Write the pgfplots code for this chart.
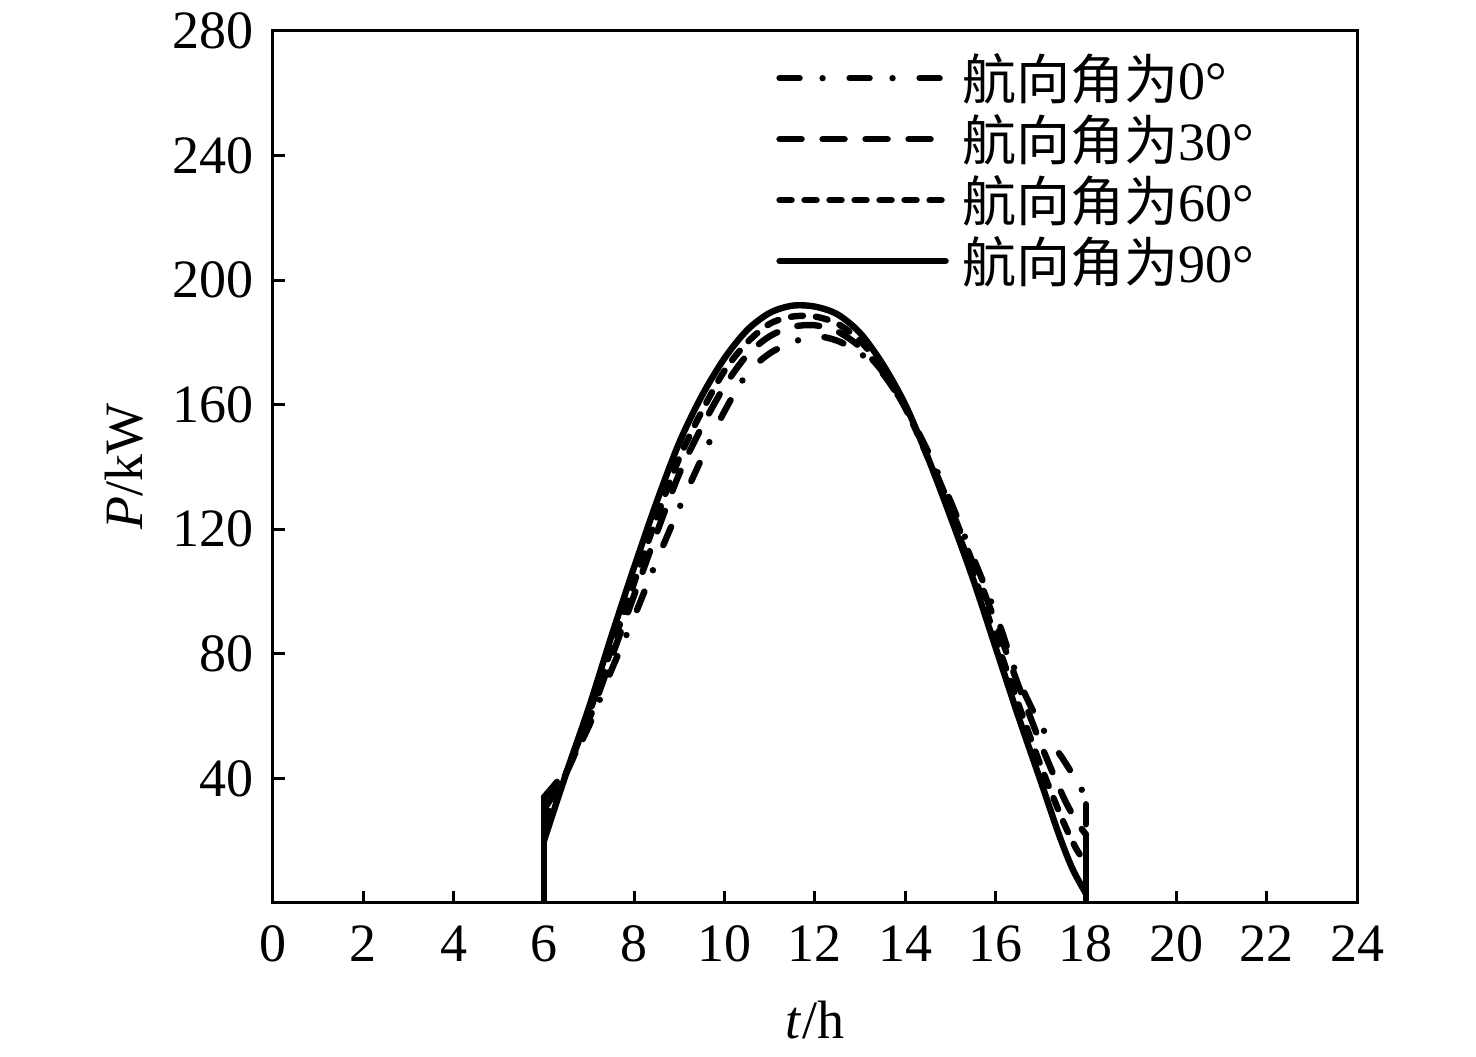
\documentclass[border=0pt]{standalone}
\usepackage{pgfplots}
\pgfplotsset{compat=1.18}
\usepackage{fontspec}
\setmainfont{Liberation Serif}
\newfontfamily\cjk{Noto Sans CJK SC}
\begin{document}
\begin{tikzpicture}[font=\fontsize{27}{32}\selectfont]
\begin{axis}[
  scale only axis, width=542pt, height=436pt,
  xmin=0, xmax=24, ymin=0, ymax=280,
  xtick={0,2,...,24}, ytick={40,80,...,280},
  tick pos=left, tick align=inside, major tick length=6pt,
  axis line style={line width=1.5pt}, every tick/.style={line width=1.5pt, black},
  /pgf/number format/assume math mode=true,
  xlabel={\textit{t}/h}, ylabel={\textit{P}/kW},
  xlabel style={at={(axis description cs:0.5,-0.134)}, anchor=center},
  ylabel style={at={(axis description cs:-0.137,0.5)}, anchor=center},
  yticklabel style={xshift=-6pt},
  xticklabel style={yshift=-8pt},
  legend cell align=left,
  legend style={at={(rel axis cs:0.464,0.979)}, anchor=north west, draw=none, fill=none,
     row sep=2pt, inner sep=0pt},
  legend image code/.code={\draw[#1] (0pt,0pt) -- (83pt,0pt); \path (88pt,0pt);},
  every axis plot/.append style={line width=3.2pt, black, line cap=round, line join=round},
]
\coordinate (bl) at (axis cs:-6.044,-49.45);
\coordinate (tr) at (axis cs:26.635,289.95);
% 0 deg
\addplot[dash pattern=on 10pt off 11.5pt on 0pt off 13.5pt, smooth, tension=0.5] coordinates {
(6,34) (6.5,43) (7,57) (7.5,75) (8,92) (8.5,110) (9,127) (9.5,143) (10,158) (10.5,170) (11,176.5) (11.5,180) (12,182) (12.5,180.5) (13,176.5) (13.5,170) (14,159) (14.5,145) (15,129) (15.5,111) (16,93) (16.5,72) (17,57) (17.5,46) (17.8,39) (18,34)};
\addlegendentry{{\cjk 航向角为}0°}
% 30 deg
\addplot[dash pattern=on 11pt off 10.5pt, smooth, tension=0.5] coordinates {
(6,30) (6.5,42) (7,59) (7.5,79) (8,99) (8.5,119) (9,138) (9.5,153) (10,166) (10.5,176) (11,182) (11.5,185) (12,185.5) (12.5,183.5) (13,178.5) (13.5,170.5) (14,159) (14.5,144) (15,127) (15.5,109) (16,90) (16.5,70) (17,51) (17.5,34) (17.8,26) (18,22)};
\addlegendentry{{\cjk 航向角为}30°}
% 60 deg
\addplot[dash pattern=on 6pt off 6.5pt, smooth, tension=0.5] coordinates {
(6,26) (6.5,42) (7,61) (7.5,82) (8,103) (8.5,124) (9,143) (9.5,158) (10,171) (10.5,180) (11,186) (11.5,188.3) (12,188.3) (12.5,186) (13,180.5) (13.5,171.5) (14,159) (14.5,143) (15,125) (15.5,106) (16,85) (16.5,64) (17,44) (17.5,26) (17.8,17) (18,13)};
\addlegendentry{{\cjk 航向角为}60°}
% 90 deg
\addplot[smooth, tension=0.5] coordinates {
(6,20) (6.5,42) (7,63) (7.5,86) (8,108) (8.5,129) (9,148) (9.5,163) (10,175) (10.5,184) (11,189.5) (11.5,191.8) (12,191.5) (12.5,189) (13,183) (13.5,173) (14,160) (14.5,143) (15,124) (15.5,104) (16,82) (16.5,60) (17,39) (17.4,22) (17.7,11) (18,3)};
\addlegendentry{{\cjk 航向角为}90°}
% vertical edges at sunrise / sunset
\addplot[forget plot] coordinates {(6,0) (6,34)};
\addplot[forget plot] coordinates {(18,0) (18,15)};
\addplot[forget plot, dash pattern=on 10pt off 6pt] coordinates {(18,15) (18,34)};
\end{axis}
\pgfresetboundingbox
\useasboundingbox (bl) rectangle (tr);
\end{tikzpicture}
\end{document}
